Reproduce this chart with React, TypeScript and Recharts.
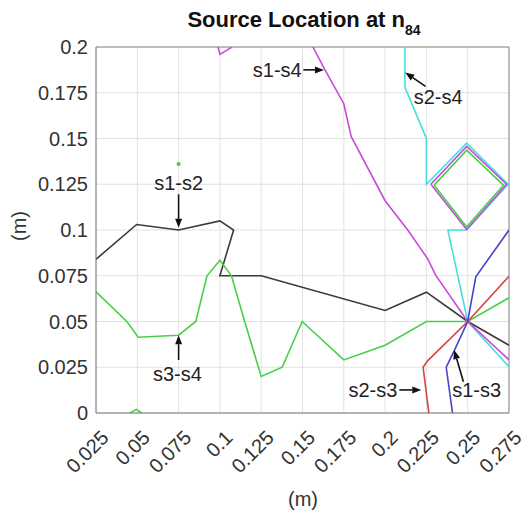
import {
  CartesianGrid,
  Line,
  LineChart,
  ReferenceDot,
  ReferenceLine,
  XAxis,
  YAxis,
} from 'recharts';

const X_TICKS = [0.025, 0.05, 0.075, 0.1, 0.125, 0.15, 0.175, 0.2, 0.225, 0.25, 0.275];
const Y_TICKS = [0, 0.025, 0.05, 0.075, 0.1, 0.125, 0.15, 0.175, 0.2];

// s1-s2 (black)
const S1_S2 = [
  { x: 0.025, y: 0.084 },
  { x: 0.0496, y: 0.103 },
  { x: 0.075, y: 0.1 },
  { x: 0.1, y: 0.105 },
  { x: 0.1083, y: 0.1 },
  { x: 0.1, y: 0.075 },
  { x: 0.125, y: 0.075 },
  { x: 0.2, y: 0.056 },
  { x: 0.225, y: 0.066 },
  { x: 0.25, y: 0.05 },
  { x: 0.275, y: 0.037 },
];

// s3-s4 (green)
const S3_S4 = [
  { x: 0.025, y: 0.0662 },
  { x: 0.0437, y: 0.05 },
  { x: 0.0505, y: 0.0414 },
  { x: 0.075, y: 0.0425 },
  { x: 0.0854, y: 0.05 },
  { x: 0.0922, y: 0.075 },
  { x: 0.1, y: 0.0835 },
  { x: 0.107, y: 0.075 },
  { x: 0.115, y: 0.05 },
  { x: 0.125, y: 0.02 },
  { x: 0.1377, y: 0.025 },
  { x: 0.1498, y: 0.05 },
  { x: 0.175, y: 0.029 },
  { x: 0.2, y: 0.037 },
  { x: 0.225, y: 0.05 },
  { x: 0.25, y: 0.05 },
  { x: 0.275, y: 0.063 },
];
const S3_S4_BUMP = [
  { x: 0.0455, y: 0 },
  { x: 0.0496, y: 0.002 },
  { x: 0.0526, y: 0 },
];
const S3_S4_LOOP = [
  { x: 0.2297, y: 0.1245 },
  { x: 0.2494, y: 0.1436 },
  { x: 0.2716, y: 0.1245 },
  { x: 0.2494, y: 0.1017 },
  { x: 0.2297, y: 0.1245 },
];
const S3_S4_DOT = [{ x: 0.075, y: 0.136 }];

// s1-s4 (magenta)
const S1_S4 = [
  { x: 0.1563, y: 0.2 },
  { x: 0.1633, y: 0.188 },
  { x: 0.175, y: 0.169 },
  { x: 0.1795, y: 0.151 },
  { x: 0.2, y: 0.116 },
  { x: 0.2137, y: 0.1 },
  { x: 0.2257, y: 0.0844 },
  { x: 0.2306, y: 0.0753 },
  { x: 0.25, y: 0.05 },
  { x: 0.275, y: 0.029 },
];
const S1_S4_TOP = [
  { x: 0.0989, y: 0.2 },
  { x: 0.1, y: 0.196 },
  { x: 0.1074, y: 0.2 },
];
const S1_S4_LOOP = [
  { x: 0.2277, y: 0.125 },
  { x: 0.2494, y: 0.1457 },
  { x: 0.2735, y: 0.125 },
  { x: 0.2494, y: 0.1003 },
  { x: 0.2277, y: 0.125 },
];

// s2-s4 (cyan)
const S2_S4 = [
  { x: 0.212, y: 0.2 },
  { x: 0.212, y: 0.178 },
  { x: 0.225, y: 0.15 },
  { x: 0.225, y: 0.125 },
  { x: 0.2494, y: 0.1475 },
  { x: 0.2745, y: 0.125 },
  { x: 0.2494, y: 0.1 },
  { x: 0.238, y: 0.1 },
  { x: 0.25, y: 0.05 },
  { x: 0.275, y: 0.0253 },
];

// s2-s3 (red)
const S2_S3 = [
  { x: 0.2265, y: 0 },
  { x: 0.223, y: 0.025 },
  { x: 0.2257, y: 0.0285 },
  { x: 0.25, y: 0.05 },
  { x: 0.275, y: 0.0747 },
];

// s1-s3 (blue)
const S1_S3 = [
  { x: 0.2408, y: 0 },
  { x: 0.237, y: 0.025 },
  { x: 0.2418, y: 0.034 },
  { x: 0.25, y: 0.05 },
  { x: 0.2549, y: 0.0744 },
  { x: 0.275, y: 0.1 },
];

const NOTES = [
  { text: 's1-s4', tx: 0.1495, ty: 0.1872, anchor: 'end', from: [0.1505, 0.1875], to: [0.163, 0.1875] },
  { text: 's2-s4', tx: 0.2321, ty: 0.1725, anchor: 'middle', from: [0.2245, 0.1785], to: [0.2122, 0.186] },
  { text: 's1-s2', tx: 0.075, ty: 0.1255, anchor: 'middle', from: [0.075, 0.1195], to: [0.075, 0.1012] },
  { text: 's3-s4', tx: 0.0743, ty: 0.0213, anchor: 'middle', from: [0.075, 0.029], to: [0.075, 0.0425] },
  { text: 's2-s3', tx: 0.2074, ty: 0.0126, anchor: 'end', from: [0.2086, 0.0126], to: [0.2219, 0.0126] },
  { text: 's1-s3', tx: 0.2554, ty: 0.0126, anchor: 'middle', from: [0.2474, 0.0171], to: [0.2418, 0.0344] },
];

const FONT = '"Liberation Sans", Arial, Helvetica, sans-serif';
const BLACK = '#3a3a3a';
const GREEN = '#46d046';
const MAGENTA = '#c84ad8';
const CYAN = '#48dede';
const RED = '#d44444';
const BLUE = '#4444c8';

function XTick({ x, y, payload }: any) {
  const ax = x + 9;
  const ay = y + 21;
  return (
    <text
      x={ax}
      y={ay}
      transform={`rotate(-45, ${ax}, ${ay})`}
      textAnchor="end"
      dominantBaseline="central"
      fontSize={20}
      fontFamily={FONT}
      fill="#333"
    >
      {String(payload.value)}
    </text>
  );
}

function YTick({ x, y, payload }: any) {
  return (
    <text x={x} y={y} textAnchor="end" dominantBaseline="central" fontSize={20} fontFamily={FONT} fill="#333">
      {String(payload.value)}
    </text>
  );
}

function Arrow(p: any) {
  const { x1, y1, x2, y2 } = p;
  const a = Math.atan2(y2 - y1, x2 - x1);
  const len = 9;
  const hw = 3.5;
  const bx = x2 - len * Math.cos(a);
  const by = y2 - len * Math.sin(a);
  const nx = -Math.sin(a) * hw;
  const ny = Math.cos(a) * hw;
  return (
    <g>
      <line x1={x1} y1={y1} x2={bx} y2={by} stroke="#111" strokeWidth={1.6} />
      <polygon points={`${x2},${y2} ${bx + nx},${by + ny} ${bx - nx},${by - ny}`} fill="#111" />
    </g>
  );
}

function series(data: { x: number; y: number }[], color: string, key: string, dot: any = false) {
  return (
    <Line
      key={key}
      data={data}
      dataKey="y"
      type="linear"
      stroke={color}
      strokeWidth={1.6}
      dot={dot}
      activeDot={false}
      isAnimationActive={false}
    />
  );
}

export default function App() {
  return (
    <div style={{ position: 'absolute', left: 0, top: 0, width: 522, height: 513, background: '#fff' }}>
      <LineChart width={522} height={513} margin={{ top: 47, right: 13, bottom: 40, left: 36 }}>
        <CartesianGrid stroke="#e2e2e2" />
        <XAxis
          type="number"
          dataKey="x"
          domain={[0.025, 0.275]}
          ticks={X_TICKS}
          allowDataOverflow
          height={60}
          tickSize={0}
          tickMargin={0}
          tickLine={false}
          axisLine={{ stroke: '#777' }}
          tick={<XTick />}
          interval={0}
        />
        <YAxis
          type="number"
          domain={[0, 0.2]}
          ticks={Y_TICKS}
          allowDataOverflow
          width={60}
          tickSize={0}
          tickMargin={8}
          tickLine={false}
          axisLine={{ stroke: '#777' }}
          tick={<YTick />}
          interval={0}
        />
        <ReferenceLine y={0.2} stroke="#888" />
        <ReferenceLine x={0.275} stroke="#888" />
        {series(S1_S2, BLACK, 's12')}
        {series(S3_S4, GREEN, 's34')}
        {series(S3_S4_BUMP, GREEN, 's34b')}
        {series(S3_S4_DOT, GREEN, 's34d', { r: 1.3, fill: GREEN, stroke: GREEN })}
        {series(S2_S4, CYAN, 's24')}
        {series(S1_S4, MAGENTA, 's14')}
        {series(S1_S4_TOP, MAGENTA, 's14t')}
        {series(S1_S4_LOOP, MAGENTA, 's14l')}
        {series(S3_S4_LOOP, GREEN, 's34l')}
        {series(S2_S3, RED, 's23')}
        {series(S1_S3, BLUE, 's13')}
        {NOTES.map((n) => (
          <ReferenceLine
            key={`a-${n.text}`}
            segment={[
              { x: n.from[0], y: n.from[1] },
              { x: n.to[0], y: n.to[1] },
            ]}
            shape={Arrow}
          />
        ))}
        {NOTES.map((n) => (
          <ReferenceDot
            key={`t-${n.text}`}
            x={n.tx}
            y={n.ty}
            r={0}
            shape={(p: any) => (
              <text
                x={p.cx}
                y={p.cy}
                textAnchor={n.anchor}
                dominantBaseline="central"
                fontSize={20}
                fontFamily={FONT}
                fill="#222"
              >
                {n.text}
              </text>
            )}
          />
        ))}
      </LineChart>
      <svg width={522} height={513} style={{ position: 'absolute', left: 0, top: 0, pointerEvents: 'none' }}>
        <text x={304} y={27} textAnchor="middle" fontSize={22} fontWeight="bold" fontFamily={FONT} fill="#111">
          Source Location at n
          <tspan fontSize={14} dy={8}>
            84
          </tspan>
        </text>
        <text x={303} y={499} textAnchor="middle" dominantBaseline="central" fontSize={20} fontFamily={FONT} fill="#333">
          (m)
        </text>
        <text
          x={19}
          y={226}
          transform="rotate(-90, 19, 226)"
          textAnchor="middle"
          dominantBaseline="central"
          fontSize={20}
          fontFamily={FONT}
          fill="#333"
        >
          (m)
        </text>
      </svg>
    </div>
  );
}
